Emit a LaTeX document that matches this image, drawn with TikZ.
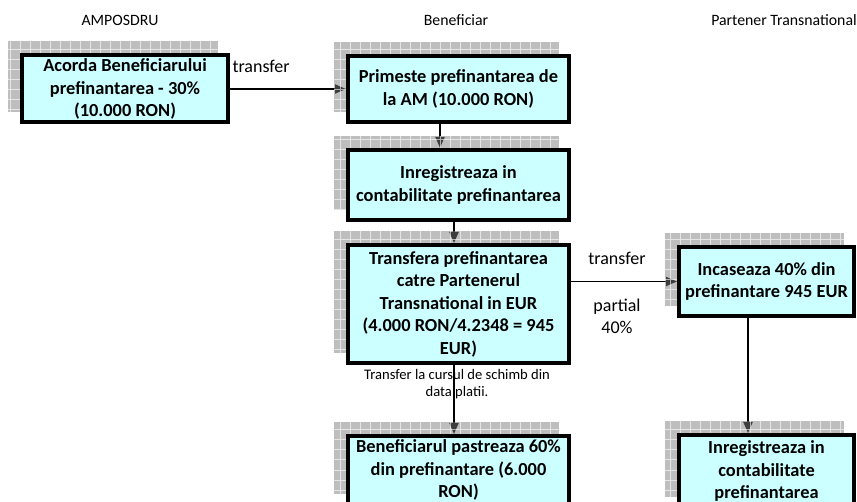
\documentclass[tikz,border=0pt]{standalone}
\usepackage{fontspec}
\setmainfont{Carlito}
\usetikzlibrary{arrows.meta,backgrounds}

\definecolor{boxcyan}{RGB}{204,255,255}
\definecolor{shadowgray}{RGB}{125,125,125}

\begin{document}
\begin{tikzpicture}[x=1pt,y=-1pt,
  every node/.style={align=center},
  stepbox/.style={draw,line width=4pt,fill=boxcyan,inner xsep=1pt,inner ysep=0pt,
    font=\bfseries\fontsize{18.4}{22.5}\selectfont},
  head/.style={font=\fontsize{15.8}{19}\selectfont},
  lbl/.style={font=\fontsize{18}{22.5}\selectfont},
  note/.style={font=\fontsize{14.6}{16.5}\selectfont},
  flow/.style={-{Triangle[length=11pt,width=9pt]},line width=1.8pt},
  shadowfill/.style={fill=shadowgray,fill opacity=0.5},
  shadowgrid/.style={white,opacity=0.6,line width=1pt,step=10pt}]

    \useasboundingbox (0,0) rectangle (857,502);
    \clip (0,0) rectangle (857,502);

    % column heads
    \node[head](hAM) at (120,20) {AMPOSDRU};
    \node[head](hBen) at (456,20) {Beneficiar};
    \node[head](hPT) at (784,20) {Partener Transnational};

    % boxes
    \node[stepbox,minimum width=206pt,minimum height=67pt](amposdru) at (125,89)
        {Acorda Beneficiarului\\prefinantarea - 30\%\\(10.000 RON)};
    \node[stepbox,minimum width=221pt,minimum height=66pt](primeste) at (458.5,89)
        {Primeste prefinantarea de\\la AM (10.000 RON)};
    \node[stepbox,minimum width=221pt,minimum height=70pt](inregistreaza) at (458.5,185)
        {Inregistreaza in\\contabilitate prefinantarea};
    \node[stepbox,minimum width=221pt,minimum height=118pt](transfera) at (458.5,304)
        {Transfera prefinantarea\\catre Partenerul\\Transnational in EUR\\(4.000 RON/4.2348 = 945\\EUR)};
    \node[stepbox,minimum width=221pt,minimum height=68pt](pastreaza) at (458.5,470)
        {Beneficiarul pastreaza 60\%\\din prefinantare (6.000\\RON)};
    \node[stepbox,minimum width=175pt,minimum height=69pt](incaseaza) at (766.5,281.5)
        {Incaseaza 40\% din\\prefinantare 945 EUR};
    \node[stepbox,minimum width=175pt,minimum height=72pt](contabilizeaza) at (766.5,471)
        {Inregistreaza in\\contabilitate\\prefinantarea};

    % labels
    \node[lbl,anchor=west](tr1) at (229,66) {transfer};
    \node[lbl](tr2) at (617,258) {transfer};
    \node[lbl](part) at (617,316.5) {partial\\40\%};
    \node[note](curs) at (457,384) {Transfer la cursul de schimb din\\data platii.};

    \begin{scope}[on background layer]
        % connectors
        \draw[flow](amposdru.east |- primeste) -- (primeste);
        \draw[flow]([xshift=-18.5pt]primeste.south) -- ([xshift=-18.5pt]inregistreaza.north);
        \draw[flow]([xshift=-4.5pt]inregistreaza.south) -- ([xshift=-4.5pt]transfera.north);
        \draw[flow]([xshift=-4.5pt]transfera.south) -- ([xshift=-4.5pt]pastreaza.north);
        \draw[flow](transfera.east |- incaseaza) -- (incaseaza);
        \draw[flow]([xshift=-18.5pt]incaseaza.south) -- ([xshift=-18.5pt]contabilizeaza.north);

        % shadows
        \foreach \b in {amposdru,primeste,inregistreaza,transfera,pastreaza,incaseaza,contabilizeaza}{
            \fill[shadowfill]([shift={(-12pt,12pt)}]\b.south west) rectangle ([shift={(-12pt,12pt)}]\b.north east);
            \begin{scope}
                \clip([shift={(-12pt,12pt)}]\b.south west) rectangle ([shift={(-12pt,12pt)}]\b.north east);
                \draw[shadowgrid]([shift={(-12pt,12pt)}]\b.south west) grid ([shift={(-12pt,12pt)}]\b.north east);
            \end{scope}
        }
    \end{scope}
\end{tikzpicture}
\end{document}
